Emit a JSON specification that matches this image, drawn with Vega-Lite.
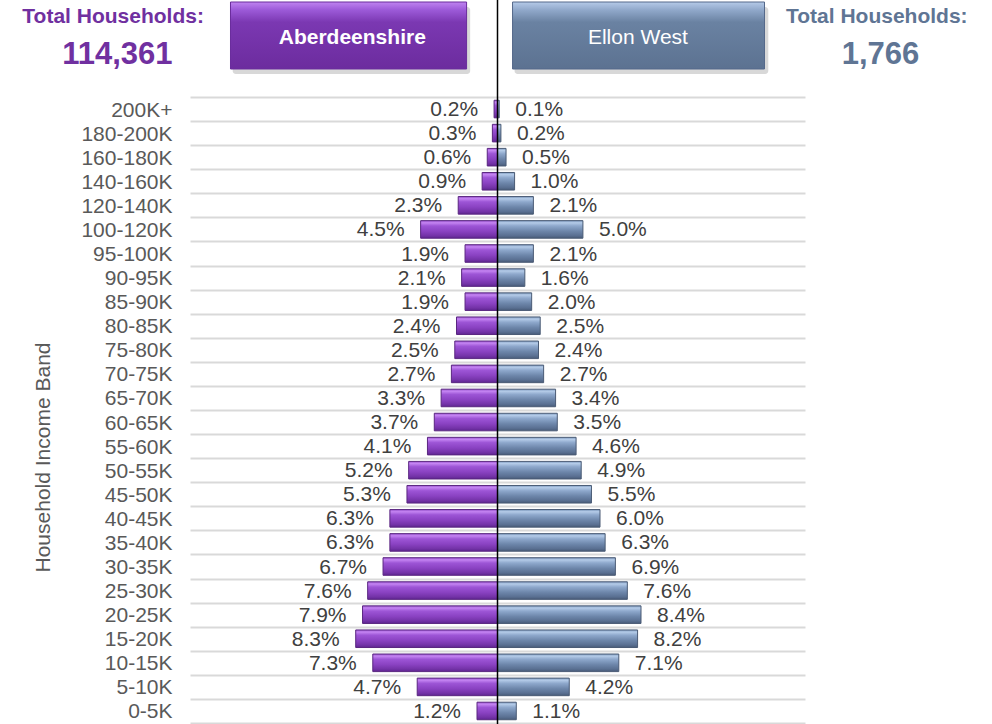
{
  "$schema": "https://vega.github.io/schema/vega-lite/v6.json",
  "width": 615,
  "height": 626,
  "autosize": {"type": "none"},
  "padding": {"left": 190, "top": 97, "right": 187, "bottom": 1},
  "background": "white",
  "config": {"font": "Liberation Sans", "view": {"stroke": null}},
  "datasets": {
    "income": [
      {"band": "200K+", "area": "Aberdeenshire", "pct": 0.2}, {"band": "200K+", "area": "Ellon West", "pct": 0.1},
      {"band": "180-200K", "area": "Aberdeenshire", "pct": 0.3}, {"band": "180-200K", "area": "Ellon West", "pct": 0.2},
      {"band": "160-180K", "area": "Aberdeenshire", "pct": 0.6}, {"band": "160-180K", "area": "Ellon West", "pct": 0.5},
      {"band": "140-160K", "area": "Aberdeenshire", "pct": 0.9}, {"band": "140-160K", "area": "Ellon West", "pct": 1.0},
      {"band": "120-140K", "area": "Aberdeenshire", "pct": 2.3}, {"band": "120-140K", "area": "Ellon West", "pct": 2.1},
      {"band": "100-120K", "area": "Aberdeenshire", "pct": 4.5}, {"band": "100-120K", "area": "Ellon West", "pct": 5.0},
      {"band": "95-100K", "area": "Aberdeenshire", "pct": 1.9}, {"band": "95-100K", "area": "Ellon West", "pct": 2.1},
      {"band": "90-95K", "area": "Aberdeenshire", "pct": 2.1}, {"band": "90-95K", "area": "Ellon West", "pct": 1.6},
      {"band": "85-90K", "area": "Aberdeenshire", "pct": 1.9}, {"band": "85-90K", "area": "Ellon West", "pct": 2.0},
      {"band": "80-85K", "area": "Aberdeenshire", "pct": 2.4}, {"band": "80-85K", "area": "Ellon West", "pct": 2.5},
      {"band": "75-80K", "area": "Aberdeenshire", "pct": 2.5}, {"band": "75-80K", "area": "Ellon West", "pct": 2.4},
      {"band": "70-75K", "area": "Aberdeenshire", "pct": 2.7}, {"band": "70-75K", "area": "Ellon West", "pct": 2.7},
      {"band": "65-70K", "area": "Aberdeenshire", "pct": 3.3}, {"band": "65-70K", "area": "Ellon West", "pct": 3.4},
      {"band": "60-65K", "area": "Aberdeenshire", "pct": 3.7}, {"band": "60-65K", "area": "Ellon West", "pct": 3.5},
      {"band": "55-60K", "area": "Aberdeenshire", "pct": 4.1}, {"band": "55-60K", "area": "Ellon West", "pct": 4.6},
      {"band": "50-55K", "area": "Aberdeenshire", "pct": 5.2}, {"band": "50-55K", "area": "Ellon West", "pct": 4.9},
      {"band": "45-50K", "area": "Aberdeenshire", "pct": 5.3}, {"band": "45-50K", "area": "Ellon West", "pct": 5.5},
      {"band": "40-45K", "area": "Aberdeenshire", "pct": 6.3}, {"band": "40-45K", "area": "Ellon West", "pct": 6.0},
      {"band": "35-40K", "area": "Aberdeenshire", "pct": 6.3}, {"band": "35-40K", "area": "Ellon West", "pct": 6.3},
      {"band": "30-35K", "area": "Aberdeenshire", "pct": 6.7}, {"band": "30-35K", "area": "Ellon West", "pct": 6.9},
      {"band": "25-30K", "area": "Aberdeenshire", "pct": 7.6}, {"band": "25-30K", "area": "Ellon West", "pct": 7.6},
      {"band": "20-25K", "area": "Aberdeenshire", "pct": 7.9}, {"band": "20-25K", "area": "Ellon West", "pct": 8.4},
      {"band": "15-20K", "area": "Aberdeenshire", "pct": 8.3}, {"band": "15-20K", "area": "Ellon West", "pct": 8.2},
      {"band": "10-15K", "area": "Aberdeenshire", "pct": 7.3}, {"band": "10-15K", "area": "Ellon West", "pct": 7.1},
      {"band": "5-10K", "area": "Aberdeenshire", "pct": 4.7}, {"band": "5-10K", "area": "Ellon West", "pct": 4.2},
      {"band": "0-5K", "area": "Aberdeenshire", "pct": 1.2}, {"band": "0-5K", "area": "Ellon West", "pct": 1.1}
    ],
    "header": [
      {"role": "heading", "side": "Aberdeenshire", "text": "Total Households:", "x": -22.5, "y": 706},
      {"role": "total", "side": "Aberdeenshire", "text": "114,361", "x": -22.25, "y": 668},
      {"role": "heading", "side": "Ellon West", "text": "Total Households:", "x": 22.2, "y": 706},
      {"role": "total", "side": "Ellon West", "text": "1,766", "x": 22.42, "y": 668},
      {"role": "box", "side": "Aberdeenshire", "text": "Aberdeenshire", "x": -15.63, "x2": -1.81, "y": 721, "y2": 654, "tx": -8.5, "ty": 685},
      {"role": "box", "side": "Ellon West", "text": "Ellon West", "x": 0.88, "x2": 15.63, "y": 721, "y2": 654, "tx": 8.22, "ty": 685},
      {"role": "shadow", "side": "Aberdeenshire", "x": -15.5, "x2": -1.6, "y": 716, "y2": 649},
      {"role": "shadow", "side": "Ellon West", "x": 1.0, "x2": 15.85, "y": 716, "y2": 649},
      {"role": "centre", "x": 0, "y": 723, "y2": -1}
    ]
  },
  "layer": [
    {
      "data": {"name": "income"},
      "transform": [
        {"calculate": "datum.area === 'Aberdeenshire' ? -datum.pct : datum.pct", "as": "signed"},
        {"calculate": "format(datum.pct, '.1f') + '%'", "as": "label"}
      ],
      "encoding": {
        "y": {
          "field": "band", "type": "nominal", "sort": null,
          "scale": {"paddingInner": 0, "paddingOuter": 0},
          "axis": {
            "title": "Household Income Band",
            "tickBand": "extent", "grid": true, "gridColor": "#d9d9d9", "gridWidth": 2,
            "ticks": false, "tickSize": 0, "domain": false, "labelPadding": 18,
            "labelFontSize": 21, "labelColor": "#595959", "labelBaseline": "middle", "labelOffset": 1,
            "titleFontSize": 21, "titleFontWeight": "normal", "titleColor": "#595959",
            "titleX": -147, "titleY": 360, "titleAlign": "center", "titleBaseline": "middle"
          }
        }
      },
      "layer": [
        {
          "transform": [{"filter": "datum.area === 'Aberdeenshire'"}],
          "mark": {
            "type": "bar", "height": {"band": 0.73}, "stroke": "#5a2680", "strokeWidth": 1,
            "fill": {"gradient": "linear", "x1": 0, "y1": 0, "x2": 0, "y2": 1,
              "stops": [
                {"offset": 0, "color": "#9b55d0"}, {"offset": 0.12, "color": "#c484f2"},
                {"offset": 0.3, "color": "#9d55d6"}, {"offset": 0.6, "color": "#8a42c2"},
                {"offset": 0.85, "color": "#7433a8"}, {"offset": 1, "color": "#5e2590"}
              ]}
          },
          "encoding": {"x": {"field": "signed", "type": "quantitative", "scale": {"domain": [-18, 18], "nice": false}, "axis": null}}
        },
        {
          "transform": [{"filter": "datum.area === 'Ellon West'"}],
          "mark": {
            "type": "bar", "height": {"band": 0.73}, "stroke": "#4a5b75", "strokeWidth": 1,
            "fill": {"gradient": "linear", "x1": 0, "y1": 0, "x2": 0, "y2": 1,
              "stops": [
                {"offset": 0, "color": "#7f9bc0"}, {"offset": 0.12, "color": "#b4cbe8"},
                {"offset": 0.3, "color": "#8ea8cc"}, {"offset": 0.6, "color": "#6d86aa"},
                {"offset": 0.85, "color": "#5a7092"}, {"offset": 1, "color": "#485b78"}
              ]}
          },
          "encoding": {"x": {"field": "signed", "type": "quantitative"}}
        },
        {
          "transform": [{"filter": "datum.area === 'Aberdeenshire'"}],
          "mark": {"type": "text", "align": "right", "baseline": "middle", "dx": -16, "dy": 1, "fontSize": 21, "color": "#404040"},
          "encoding": {"x": {"field": "signed", "type": "quantitative"}, "text": {"field": "label"}}
        },
        {
          "transform": [{"filter": "datum.area === 'Ellon West'"}],
          "mark": {"type": "text", "align": "left", "baseline": "middle", "dx": 16, "dy": 1, "fontSize": 21, "color": "#404040"},
          "encoding": {"x": {"field": "signed", "type": "quantitative"}, "text": {"field": "label"}}
        }
      ]
    },
    {
      "data": {"name": "header"},
      "layer": [
        {
          "transform": [{"filter": "datum.role === 'shadow'"}],
          "mark": {"type": "rect", "fill": "#7f7f7f", "opacity": 0.3, "cornerRadius": 3},
          "encoding": {
            "x": {"field": "x", "type": "quantitative"}, "x2": {"field": "x2"},
            "y": {"field": "y", "type": "quantitative", "scale": {"domain": [0, 626], "nice": false, "zero": false}, "axis": null},
            "y2": {"field": "y2"}
          }
        },
        {
          "transform": [{"filter": "datum.role === 'box' && datum.side === 'Aberdeenshire'"}],
          "mark": {"type": "rect", "stroke": "#6a2c9c", "strokeWidth": 1,
            "fill": {"gradient": "linear", "x1": 0, "y1": 0, "x2": 0, "y2": 1,
              "stops": [
                {"offset": 0, "color": "#bf84f0"}, {"offset": 0.12, "color": "#9c5ad8"},
                {"offset": 0.3, "color": "#7b38b2"}, {"offset": 1, "color": "#6c2c9e"}
              ]}},
          "encoding": {"x": {"field": "x", "type": "quantitative"}, "x2": {"field": "x2"}, "y": {"field": "y", "type": "quantitative"}, "y2": {"field": "y2"}}
        },
        {
          "transform": [{"filter": "datum.role === 'box' && datum.side === 'Ellon West'"}],
          "mark": {"type": "rect", "stroke": "#55698a", "strokeWidth": 1,
            "fill": {"gradient": "linear", "x1": 0, "y1": 0, "x2": 0, "y2": 1,
              "stops": [
                {"offset": 0, "color": "#b5cae8"}, {"offset": 0.12, "color": "#90a8ca"},
                {"offset": 0.3, "color": "#6a82a2"}, {"offset": 1, "color": "#5c7291"}
              ]}},
          "encoding": {"x": {"field": "x", "type": "quantitative"}, "x2": {"field": "x2"}, "y": {"field": "y", "type": "quantitative"}, "y2": {"field": "y2"}}
        },
        {
          "transform": [{"filter": "datum.role === 'box' && datum.side === 'Aberdeenshire'"}],
          "mark": {"type": "text", "fontSize": 21, "fontWeight": "bold", "color": "white", "align": "center", "baseline": "middle"},
          "encoding": {"x": {"field": "tx", "type": "quantitative"}, "y": {"field": "ty", "type": "quantitative"}, "text": {"field": "text"}}
        },
        {
          "transform": [{"filter": "datum.role === 'box' && datum.side === 'Ellon West'"}],
          "mark": {"type": "text", "fontSize": 21, "color": "white", "align": "center", "baseline": "middle"},
          "encoding": {"x": {"field": "tx", "type": "quantitative"}, "y": {"field": "ty", "type": "quantitative"}, "text": {"field": "text"}}
        },
        {
          "transform": [{"filter": "datum.role === 'heading'"}],
          "mark": {"type": "text", "fontSize": 21, "fontWeight": "bold", "align": "center", "baseline": "middle"},
          "encoding": {
            "x": {"field": "x", "type": "quantitative"}, "y": {"field": "y", "type": "quantitative"}, "text": {"field": "text"},
            "color": {"field": "side", "type": "nominal", "scale": {"domain": ["Aberdeenshire", "Ellon West"], "range": ["#7030a0", "#5f7594"]}, "legend": null}
          }
        },
        {
          "transform": [{"filter": "datum.role === 'total'"}],
          "mark": {"type": "text", "fontSize": 31, "fontWeight": "bold", "align": "center", "baseline": "middle"},
          "encoding": {
            "x": {"field": "x", "type": "quantitative"}, "y": {"field": "y", "type": "quantitative"}, "text": {"field": "text"},
            "color": {"field": "side", "type": "nominal", "legend": null}
          }
        },
        {
          "transform": [{"filter": "datum.role === 'centre'"}],
          "mark": {"type": "rule", "color": "#000000", "strokeWidth": 1.5},
          "encoding": {"x": {"field": "x", "type": "quantitative"}, "y": {"field": "y", "type": "quantitative"}, "y2": {"field": "y2"}}
        }
      ]
    }
  ],
  "resolve": {"scale": {"y": "independent"}}
}
